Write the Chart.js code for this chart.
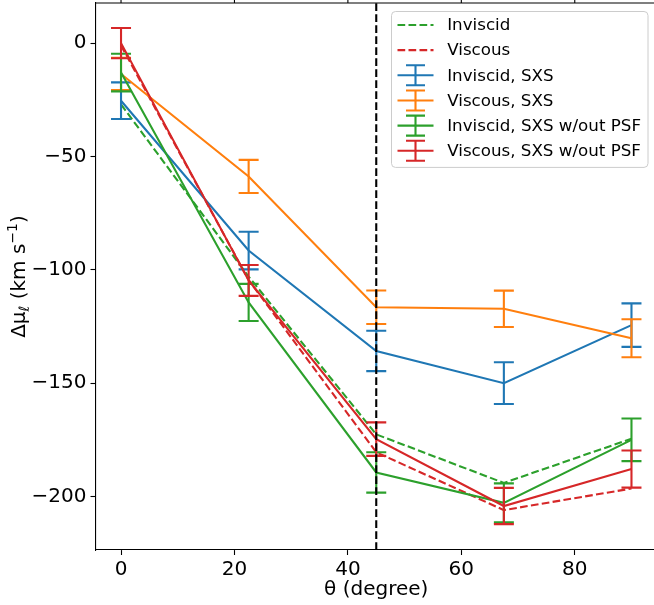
<!DOCTYPE html>
<html>
<head>
<meta charset="utf-8">
<title>Δμ vs θ</title>
<script src="https://cdn.jsdelivr.net/npm/chart.js@4.4.0/dist/chart.umd.min.js"></script>
<style>
    html, body { margin: 0; padding: 0; background: #fff; overflow: hidden; }
    canvas { display: block; }
</style>
</head>
<body>
<canvas id="chart" width="660" height="605"></canvas>
<script>
// 观测角 θ (degree)
const theta = [0, 22.5, 45, 67.5, 90];

// 理论模型（虚线）
const inviscidModel = [-27, -103, -172.6, -194, -174.5];
const viscousModel = [-1, -104.5, -180.5, -206, -196.5];

// SXS 模拟结果及误差
const inviscidSXS = [-25.4, -91.5, -135.8, -150, -124.4];
const inviscidSXSErr = [8.1, 8.3, 8.9, 9.2, 9.6];
const viscousSXS = [-13.6, -58.8, -116.5, -117.2, -130.2];
const viscousSXSErr = [7.1, 7.3, 7.4, 8.0, 8.4];
const inviscidNoPSF = [-13, -114.4, -189.4, -202.8, -175];
const inviscidNoPSFErr = [8.3, 8.2, 8.9, 8.6, 9.4];
const viscousNoPSF = [0, -104.7, -174.7, -204.2, -187.9];
const viscousNoPSFErr = [6.7, 6.8, 7.4, 8.0, 8.2];

// 坐标轴
const xTicks = [0, 20, 40, 60, 80];
const yTicks = [-200, -150, -100, -50, 0];
const xRange = [-4.5, 94.5];
const yRange = [-223.6, 17.7];
const markerTheta = 45;

// 颜色 (matplotlib tab10)
const BLUE = '#1f77b4', ORANGE = '#ff7f0e', GREEN = '#2ca02c', RED = '#d62728';
const DASH = [7.7, 3.3];

const series = [
    { label: 'Inviscid', values: inviscidModel, color: GREEN, dashed: true },
    { label: 'Viscous', values: viscousModel, color: RED, dashed: true },
    { label: 'Inviscid, SXS', values: inviscidSXS, errors: inviscidSXSErr, color: BLUE },
    { label: 'Viscous, SXS', values: viscousSXS, errors: viscousSXSErr, color: ORANGE },
    { label: 'Inviscid, SXS w/out PSF', values: inviscidNoPSF, errors: inviscidNoPSFErr, color: GREEN },
    { label: 'Viscous, SXS w/out PSF', values: viscousNoPSF, errors: viscousNoPSFErr, color: RED }
];

const FONT = 'DejaVu Sans';
Chart.defaults.font.family = FONT;
Chart.defaults.color = '#000';

function fmtMinus(v) {
    return v < 0 ? '\u2212' + Math.abs(v) : String(v);
}

// 去掉 Chart.js 为刻度文字预留的额外边距
function noScalePadding(axis) {
    axis.paddingTop = 0;
    axis.paddingBottom = 0;
    axis.paddingLeft = 0;
    axis.paddingRight = 0;
}

// 误差棒：每条数据线画完后紧接着画
const errorBars = {
    id: 'errorBars',
    afterDatasetDraw(chart, args) {
        const ds = chart.data.datasets[args.index];
        if (!ds.errors) return;
        const { ctx, scales: { x, y } } = chart;
        const cap = 10;
        ctx.save();
        ctx.strokeStyle = ds.borderColor;
        ctx.lineWidth = 2.1;
        ds.data.forEach((p, i) => {
            const px = x.getPixelForValue(p.x);
            const top = y.getPixelForValue(p.y + ds.errors[i]);
            const bot = y.getPixelForValue(p.y - ds.errors[i]);
            ctx.beginPath();
            ctx.moveTo(px, top); ctx.lineTo(px, bot);
            ctx.moveTo(px - cap, top); ctx.lineTo(px + cap, top);
            ctx.moveTo(px - cap, bot); ctx.lineTo(px + cap, bot);
            ctx.stroke();
        });
        ctx.restore();
    }
};

// 竖直虚线、顶边框、顶部刻度、y 轴标题、图例
const decorations = {
    id: 'decorations',
    afterDraw(chart) {
        const { ctx, chartArea: a, scales: { x } } = chart;
        ctx.save();

        // θ = 45° 虚线
        const mx = x.getPixelForValue(markerTheta);
        ctx.strokeStyle = '#000';
        ctx.lineWidth = 2.1;
        ctx.setLineDash(DASH);
        ctx.beginPath();
        ctx.moveTo(mx, a.bottom); ctx.lineTo(mx, a.top);
        ctx.stroke();
        ctx.setLineDash([]);

        // 上/右边框和顶部刻度
        ctx.lineWidth = 1.1;
        ctx.beginPath();
        ctx.moveTo(a.left, a.top); ctx.lineTo(a.right, a.top); ctx.lineTo(a.right, a.bottom);
        xTicks.forEach(t => {
            const px = x.getPixelForValue(t);
            ctx.moveTo(px, a.top); ctx.lineTo(px, a.top - 5);
        });
        ctx.stroke();

        // y 轴标题（带上下标）
        const big = '20px "' + FONT + '"', small = '14px "' + FONT + '"';
        const parts = [
            { t: 'Δμ', f: big, dy: 0 },
            { t: 'ℓ', f: small, dy: 4 },
            { t: ' (km s', f: big, dy: 0 },
            { t: '\u22121', f: small, dy: -8 },
            { t: ')', f: big, dy: 0 }
        ];
        let total = 0;
        parts.forEach(p => { ctx.font = p.f; p.w = ctx.measureText(p.t).width; total += p.w; });
        ctx.translate(24.5, (a.top + a.bottom) / 2);
        ctx.rotate(-Math.PI / 2);
        ctx.fillStyle = '#000';
        ctx.textBaseline = 'alphabetic';
        ctx.textAlign = 'left';
        let cx = -total / 2;
        parts.forEach(p => { ctx.font = p.f; ctx.fillText(p.t, cx, p.dy); cx += p.w; });
        ctx.setTransform(1, 0, 0, 1, 0, 0);

        // 图例
        ctx.font = '16.7px "' + FONT + '"';
        const maxW = Math.max(...series.map(s => ctx.measureText(s.label).width));
        const boxRight = a.right - 9;
        const boxTop = a.top + 8.5;
        const boxW = 55.7 + maxW + 7;
        const rowH = 25.15;
        const boxH = rowH * series.length + 5;
        const boxLeft = boxRight - boxW;
        ctx.beginPath();
        ctx.roundRect(boxLeft, boxTop, boxW, boxH, 4);
        ctx.fillStyle = 'rgba(255,255,255,0.8)';
        ctx.fill();
        ctx.strokeStyle = '#cccccc';
        ctx.lineWidth = 1;
        ctx.stroke();

        ctx.textBaseline = 'middle';
        series.forEach((s, i) => {
            const cy = boxTop + 13.5 + i * rowH;
            const hx0 = boxLeft + 6, hx1 = boxLeft + 42, hc = (hx0 + hx1) / 2;
            ctx.strokeStyle = s.color;
            ctx.lineWidth = 2.1;
            ctx.setLineDash(s.dashed ? DASH : []);
            ctx.beginPath();
            ctx.moveTo(hx0, cy); ctx.lineTo(hx1, cy);
            ctx.stroke();
            ctx.setLineDash([]);
            if (s.errors) {
                ctx.beginPath();
                ctx.moveTo(hc, cy - 10); ctx.lineTo(hc, cy + 10);
                ctx.moveTo(hc - 9.5, cy - 10); ctx.lineTo(hc + 9.5, cy - 10);
                ctx.moveTo(hc - 9.5, cy + 10); ctx.lineTo(hc + 9.5, cy + 10);
                ctx.stroke();
            }
            ctx.fillStyle = '#000';
            ctx.fillText(s.label, boxLeft + 55.7, cy + 1);
        });
        ctx.restore();
    }
};

const datasets = series.map((s, i) => ({
    label: s.label,
    data: theta.map((t, j) => ({ x: t, y: s.values[j] })),
    errors: s.errors,
    borderColor: s.color,
    borderWidth: 2.1,
    borderDash: s.dashed ? DASH : [],
    pointRadius: 0,
    tension: 0,
    fill: false,
    order: series.length - i
}));

new Chart(document.getElementById('chart'), {
    type: 'line',
    data: { datasets },
    options: {
        responsive: false,
        animation: false,
        layout: { padding: { top: 3, right: 3, left: 0, bottom: 0 } },
        plugins: { legend: { display: false }, tooltip: { enabled: false } },
        scales: {
            x: {
                type: 'linear',
                min: xRange[0],
                max: xRange[1],
                afterBuildTicks: axis => { axis.ticks = xTicks.map(v => ({ value: v })); },
                afterFit: axis => { axis.height = 55; noScalePadding(axis); },
                grid: { drawOnChartArea: false, tickLength: 5, tickColor: '#000', tickWidth: 1.1 },
                border: { color: '#000', width: 1.1 },
                ticks: { padding: 3, font: { size: 20 }, callback: v => fmtMinus(v) },
                title: { display: true, text: 'θ (degree)', font: { size: 20 }, padding: { top: 0, bottom: 3 } }
            },
            y: {
                type: 'linear',
                min: yRange[0],
                max: yRange[1],
                afterBuildTicks: axis => { axis.ticks = yTicks.map(v => ({ value: v })); },
                afterFit: axis => { axis.width = 95.5; noScalePadding(axis); },
                grid: { drawOnChartArea: false, tickLength: 5, tickColor: '#000', tickWidth: 1.1 },
                border: { color: '#000', width: 1.1 },
                ticks: { padding: 4, font: { size: 20 }, callback: v => fmtMinus(v) }
            }
        }
    },
    plugins: [errorBars, decorations]
});
</script>
</body>
</html>
